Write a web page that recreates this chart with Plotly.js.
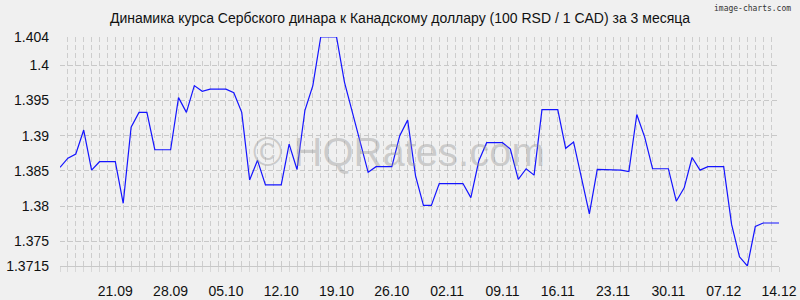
<!DOCTYPE html>
<html>
<head>
<meta charset="utf-8">
<script src="https://cdn.plot.ly/plotly-3.0.1.min.js"></script>
<style>html,body{margin:0;padding:0;background:#f0f0f0;}#chart{width:800px;height:300px;}</style>
</head>
<body>
<div id="chart"></div>
<script>
const dates = [
"2025-09-14","2025-09-15","2025-09-16","2025-09-17","2025-09-18","2025-09-19","2025-09-20","2025-09-21","2025-09-22","2025-09-23",
"2025-09-24","2025-09-25","2025-09-26","2025-09-27","2025-09-28","2025-09-29","2025-09-30","2025-10-01","2025-10-02","2025-10-03",
"2025-10-04","2025-10-05","2025-10-06","2025-10-07","2025-10-08","2025-10-09","2025-10-10","2025-10-11","2025-10-12","2025-10-13",
"2025-10-14","2025-10-15","2025-10-16","2025-10-17","2025-10-18","2025-10-19","2025-10-20","2025-10-21","2025-10-22","2025-10-23",
"2025-10-24","2025-10-25","2025-10-26","2025-10-27","2025-10-28","2025-10-29","2025-10-30","2025-10-31","2025-11-01","2025-11-02",
"2025-11-03","2025-11-04","2025-11-05","2025-11-06","2025-11-07","2025-11-08","2025-11-09","2025-11-10","2025-11-11","2025-11-12",
"2025-11-13","2025-11-14","2025-11-15","2025-11-16","2025-11-17","2025-11-18","2025-11-19","2025-11-20","2025-11-21","2025-11-22",
"2025-11-23","2025-11-24","2025-11-25","2025-11-26","2025-11-27","2025-11-28","2025-11-29","2025-11-30","2025-12-01","2025-12-02",
"2025-12-03","2025-12-04","2025-12-05","2025-12-06","2025-12-07","2025-12-08","2025-12-09","2025-12-10","2025-12-11","2025-12-12",
"2025-12-13","2025-12-14"];

const rates = [
1.3855,1.3868,1.3874,1.3908,1.3851,1.3863,1.3863,1.3863,1.3804,1.3912,
1.3933,1.3933,1.3880,1.3880,1.3880,1.3954,1.3933,1.3971,1.3963,1.3966,
1.3966,1.3966,1.3961,1.3933,1.3837,1.3865,1.3830,1.3830,1.3830,1.3888,
1.3852,1.3936,1.3971,1.4040,1.4040,1.4040,1.3976,1.3932,1.3891,1.3848,
1.3856,1.3856,1.3856,1.3900,1.3922,1.3843,1.3801,1.3801,1.3832,1.3832,
1.3832,1.3832,1.3812,1.3864,1.3890,1.3890,1.3890,1.3881,1.3838,1.3853,
1.3844,1.3937,1.3937,1.3937,1.3882,1.3891,1.3840,1.3789,1.3852,1.3852,
1.3852,1.3851,1.3849,1.3930,1.3898,1.3853,1.3853,1.3853,1.3807,1.3826,
1.3869,1.3851,1.3856,1.3856,1.3856,1.3774,1.3728,1.3715,1.3771,1.3776,
1.3776,1.3776];

const xTickVals = ["2025-09-21","2025-09-28","2025-10-05","2025-10-12","2025-10-19","2025-10-26","2025-11-02","2025-11-09","2025-11-16","2025-11-23","2025-11-30","2025-12-07","2025-12-14"];
const xTickText = ["21.09","28.09","05.10","12.10","19.10","26.10","02.11","09.11","16.11","23.11","30.11","07.12","14.12"];
const yTickVals = [1.3715,1.375,1.38,1.385,1.39,1.395,1.4,1.404];
const yTickText = ["1.3715","1.375","1.38","1.385","1.39","1.395","1.4","1.404"];

const titleText = "Динамика курса Сербского динара к Канадскому доллару (100 RSD / 1 CAD) за 3 месяца";

const font = "Liberation Sans, Arial, sans-serif";

Plotly.newPlot("chart", [{
  x: dates, y: rates, type: "scatter", mode: "lines",
  line: {color: "rgb(20,20,255)", width: 1.2},
  hoverinfo: "skip"
}], {
  width: 800, height: 300,
  paper_bgcolor: "#f0f0f0", plot_bgcolor: "#f0f0f0",
  margin: {l: 60, r: 21, t: 37, b: 34},
  showlegend: false,
  title: {text: titleText, x: 0.5, xref: "container", xanchor: "center",
          y: 1 - 18/300, yref: "container", yanchor: "middle",
          font: {family: font, size: 14, color: "#111"}},
  xaxis: {
    type: "date", range: [dates[0], dates[dates.length-1]],
    tickvals: xTickVals, ticktext: xTickText,
    tickfont: {family: font, size: 14, color: "#111"},
    ticks: "outside", ticklen: 5, tickcolor: "#d0d0d0",
    ticklabelstandoff: 7,
    showgrid: true, gridcolor: "#cacaca", griddash: "5px,3px", gridwidth: 1,
    minor: {dtick: 86400000, tick0: dates[0], showgrid: true, gridcolor: "#cdcdcd",
            griddash: "5px,3px", gridwidth: 1, ticks: "outside", ticklen: 5, tickcolor: "#d8d8d8"},
    showline: true, linecolor: "#c8c8c8", linewidth: 1,
    zeroline: false, fixedrange: true
  },
  yaxis: {
    range: [1.3715, 1.404],
    tickvals: yTickVals, ticktext: yTickText,
    tickfont: {family: font, size: 14, color: "#111"},
    ticks: "", ticklabelstandoff: 10,
    showgrid: true, gridcolor: "#c8c8c8", griddash: "5px,3px", gridwidth: 1,
    zeroline: false, showline: false, fixedrange: true
  },
  annotations: [
    {text: "© HQRates.com", xref: "paper", yref: "paper", x: 0.472, y: 0.5,
     xanchor: "center", yanchor: "middle", showarrow: false,
     font: {family: font, size: 40, color: "rgba(150,150,150,0.42)"}},
    {text: "image-charts.com", xref: "paper", yref: "paper", x: 1.02, y: 1.125,
     xanchor: "right", yanchor: "middle", showarrow: false,
     font: {family: "DejaVu Sans Mono, monospace", size: 8, color: "#333"}}
  ]
}, {staticPlot: true, displayModeBar: false});
</script>
</body>
</html>
